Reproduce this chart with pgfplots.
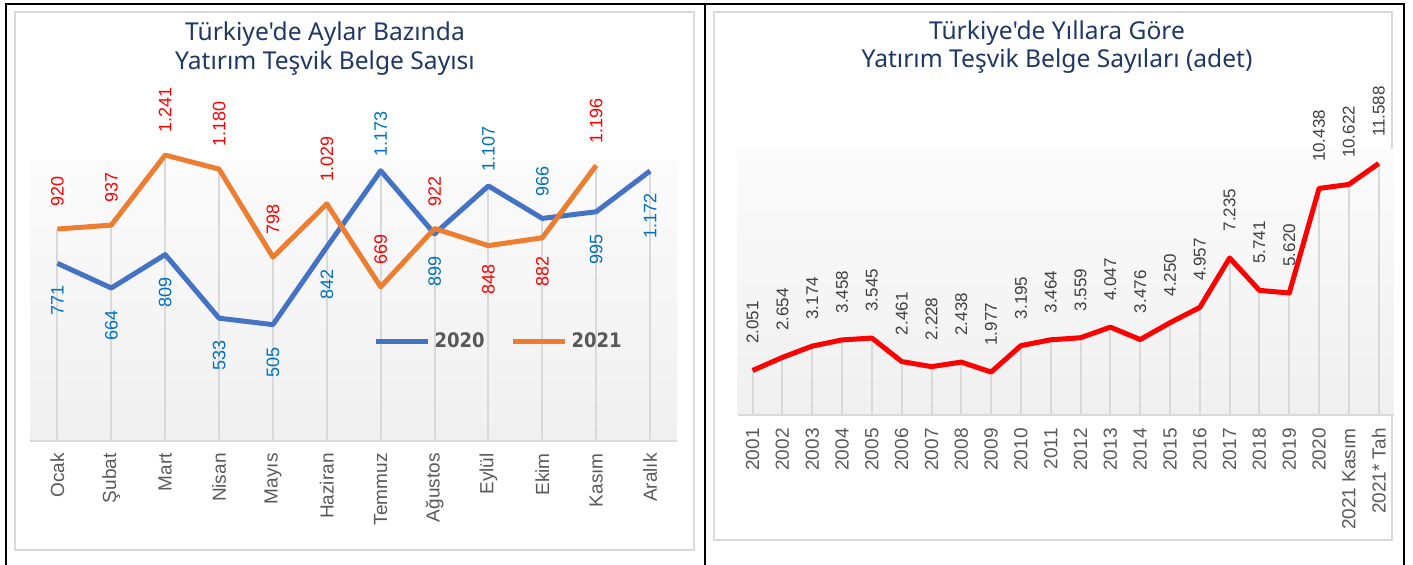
\documentclass[border=0pt]{standalone}
\usepackage{fontspec}
\setmainfont{Liberation Sans}
\newfontfamily\titlefont{Noto Sans}
\newfontfamily\legfont{DejaVu Sans Condensed}
\usepackage{pgfplots}
\pgfplotsset{compat=1.18}
\usepackage{pgfplotstable}

\definecolor{titleblue}{RGB}{32,56,100}
\definecolor{s2020}{RGB}{68,114,196}
\definecolor{s2021}{RGB}{237,125,49}
\definecolor{lab2020}{RGB}{0,112,192}
\definecolor{lab2021}{RGB}{255,0,0}
\definecolor{dropgray}{RGB}{217,217,217}
\definecolor{framegray}{RGB}{217,217,217}
\definecolor{labgray}{RGB}{89,89,89}
\definecolor{datagray}{RGB}{64,64,64}
\definecolor{bgtop}{RGB}{251,251,251}
\definecolor{bgbot}{RGB}{240,240,240}
\definecolor{redline}{RGB}{255,0,0}

\pgfplotstableread{
x y
0 771
1 664
2 809
3 533
4 505
5 842
6 1173
7 899
8 1107
9 966
10 995
11 1172
}\tabA

\pgfplotstableread{
x y
0 920
1 937
2 1241
3 1180
4 798
5 1029
6 669
7 922
8 848
9 882
10 1196
}\tabB

\pgfplotstableread{
x m
0 920
1 937
2 1241
3 1180
4 798
5 1029
6 1173
7 922
8 1107
9 966
10 1196
11 1172
}\tabDrop

\pgfplotstableread{
x y lab
0 2051 2.051
1 2654 2.654
2 3174 3.174
3 3458 3.458
4 3545 3.545
5 2461 2.461
6 2228 2.228
7 2438 2.438
8 1977 1.977
9 3195 3.195
10 3464 3.464
11 3559 3.559
12 4047 4.047
13 3476 3.476
14 4250 4.250
15 4957 4.957
16 7235 7.235
17 5741 5.741
18 5620 5.620
19 10438 10.438
20 10622 10.622
21 11588 11.588
}\tabC

\pgfplotsset{
  lbl/.style n args={3}{draw=none, mark=none, forget plot,
    point meta=explicit symbolic, nodes near coords,
    every node near coord/.style={yshift=#1, rotate=90, anchor=#2, inner sep=0pt,
      font=\fontsize{9}{9}\selectfont, text=#3}},
}

\begin{document}
\begin{tikzpicture}[x=0.5pt,y=0.5pt]
\path[use as bounding box] (0,0) rectangle (1413,565);
\fill[white] (0,0) rectangle (1413,565);
% outer black frame
\draw[black, line width=1.3pt] (6,0) -- (6,561) -- (1404,561) -- (1404,0);
\draw[black, line width=1.3pt] (705,0) -- (705,561);
% inner gray frames
\draw[framegray, line width=1pt] (15,15) rectangle (694,553);
\draw[framegray, line width=1pt] (714,25) rectangle (1392,553);

% titles
\node[anchor=base, font=\titlefont\fontsize{12.3}{12.3}\selectfont, text=titleblue, inner sep=0pt] at (325,524) {Türkiye'de Aylar Bazında};
\node[anchor=base, font=\titlefont\fontsize{12.3}{12.3}\selectfont, text=titleblue, inner sep=0pt] at (325,495) {Yatırım Teşvik Belge Sayısı};
\node[anchor=base, font=\titlefont\fontsize{12.3}{12.3}\selectfont, text=titleblue, inner sep=0pt] at (1057,525) {Türkiye'de Yıllara Göre};
\node[anchor=base, font=\titlefont\fontsize{12.3}{12.3}\selectfont, text=titleblue, inner sep=0pt] at (1057,497) {Yatırım Teşvik Belge Sayıları (adet)};

% ---------------- left chart
\begin{axis}[
  at={(15.25pt,62pt)}, anchor=south west,
  scale only axis, width=323.25pt, height=139.5pt,
  xmin=-0.5, xmax=11.5, ymin=0, ymax=1211,
  clip=false,
  axis line style={draw=none},
  axis background/.style={shade, top color=bgtop, bottom color=bgbot},
  xtick={0,...,11},
  xticklabels={Ocak,Şubat,Mart,Nisan,Mayıs,Haziran,Temmuz,Ağustos,Eylül,Ekim,Kasım,Aralık},
  major tick length=0pt,
  xticklabel style={yshift=-6pt, rotate=90, anchor=east, inner sep=0pt, font=\fontsize{9.5}{9.5}\selectfont, text=labgray},
  ytick=\empty,
  legend style={at={(0.53,0.355)}, anchor=west, draw=none, fill=none, inner sep=0pt,
    legend columns=2, font=\legfont\bfseries\fontsize{10}{10}\selectfont, text=labgray,
    /tikz/every even column/.append style={column sep=11pt}},
  legend cell align=left,
  legend image code/.code={\draw[#1, line width=2.5pt] (0pt,0pt) -- (26pt,0pt);},
]
\addplot[ycomb, draw=dropgray, line width=1pt, forget plot, mark=none] table[x=x,y=m] {\tabDrop};
\draw[dropgray, line width=1pt] (axis cs:-0.5,0) -- (axis cs:11.5,0);
\addplot[s2020, line width=2.5pt, line join=round, mark=none] table[x=x, y=y] {\tabA};
\addlegendentry{2020}
\addplot[s2021, line width=2.5pt, line join=round, mark=none] table[x=x, y=y] {\tabB};
\addlegendentry{2021}
% data labels 2020
\addplot[lbl={-11pt}{east}{lab2020}] coordinates {(0,771)[771] (1,664)[664] (2,809)[809] (3,533)[533] (4,505)[505] (5,842)[842] (7,899)[899] (10,995)[995] (11,1172)[1.172]};
\addplot[lbl={7pt}{west}{lab2020}] coordinates {(6,1173)[1.173] (8,1107)[1.107]};
\addplot[lbl={11pt}{west}{lab2020}] coordinates {(9,966)[966]};
% data labels 2021
\addplot[lbl={11pt}{west}{lab2021}] coordinates {(0,920)[920] (1,937)[937] (2,1241)[1.241] (3,1180)[1.180] (4,798)[798] (5,1029)[1.029] (6,669)[669] (7,922)[922] (10,1196)[1.196]};
\addplot[lbl={-9pt}{east}{lab2021}] coordinates {(8,848)[848] (9,882)[882]};
\end{axis}

% ---------------- right chart
\begin{axis}[
  at={(368.85pt,75pt)}, anchor=south west,
  scale only axis, width=327.95pt, height=132.5pt,
  xmin=-0.5, xmax=21.5, ymin=0, ymax=12209,
  clip=false,
  axis line style={draw=none},
  axis background/.style={shade, top color=bgtop, bottom color=bgbot},
  xtick={0,...,21},
  xticklabels={2001,2002,2003,2004,2005,2006,2007,2008,2009,2010,2011,2012,2013,2014,2015,2016,2017,2018,2019,2020,2021 Kasım,2021* Tah},
  major tick length=0pt,
  xticklabel style={yshift=-6.5pt, rotate=90, anchor=east, inner sep=0pt, font=\fontsize{9.5}{9.5}\selectfont, text=labgray},
  ytick=\empty,
]
\addplot[ycomb, draw=dropgray, line width=1pt, mark=none] table[x=x,y=y] {\tabC};
\draw[dropgray, line width=1pt] (axis cs:-0.5,0) -- (axis cs:21.5,0);
\addplot[redline, line width=2.5pt, line join=round, mark=none,
  point meta=explicit symbolic,
  nodes near coords,
  every node near coord/.style={yshift=12pt, rotate=90, anchor=west, inner sep=0pt,
    font=\fontsize{8.5}{8.5}\selectfont, text=datagray},
] table[x=x, y=y, meta=lab] {\tabC};
\end{axis}
\end{tikzpicture}
\end{document}
